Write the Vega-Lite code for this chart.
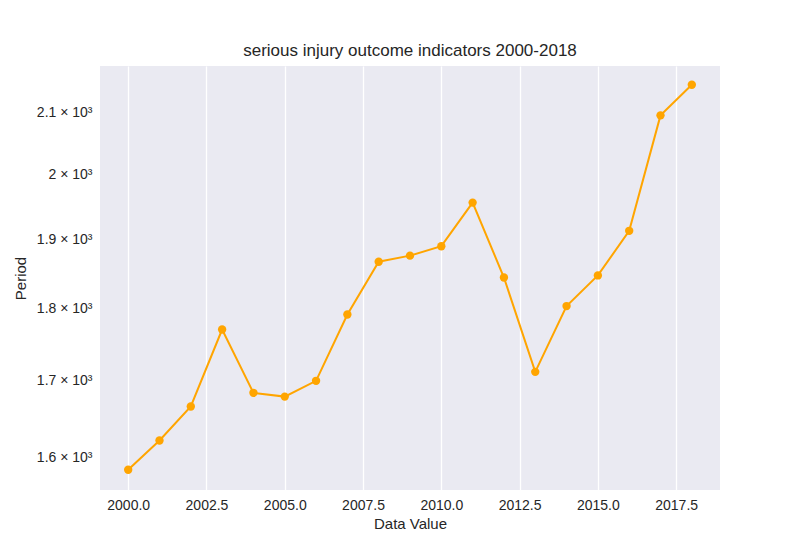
{
  "$schema": "https://vega.github.io/schema/vega-lite/v6.json",
  "autosize": "none",
  "width": 620,
  "height": 424,
  "padding": {"left": 100, "top": 66, "right": 80, "bottom": 60},
  "background": "white",
  "config": {
    "font": "Liberation Sans",
    "view": {"fill": "#EAEAF2", "stroke": null},
    "axis": {"domain": false, "ticks": false, "labelFontSize": 14, "labelColor": "#262626", "titleFontSize": 15, "titleFontWeight": "normal", "titleColor": "#262626", "labelFont": "Liberation Sans", "titleFont": "Liberation Sans"}
  },
  "title": {"text": "serious injury outcome indicators 2000-2018", "fontSize": 17, "fontWeight": "normal", "color": "#262626", "offset": 6, "font": "Liberation Sans"},
  "data": {"values": [
    {"year": 2000, "v": 1585}, {"year": 2001, "v": 1622}, {"year": 2002, "v": 1666},
    {"year": 2003, "v": 1770}, {"year": 2004, "v": 1684}, {"year": 2005, "v": 1679},
    {"year": 2006, "v": 1700}, {"year": 2007, "v": 1791}, {"year": 2008, "v": 1867},
    {"year": 2009, "v": 1876}, {"year": 2010, "v": 1890}, {"year": 2011, "v": 1956},
    {"year": 2012, "v": 1844}, {"year": 2013, "v": 1712}, {"year": 2014, "v": 1803},
    {"year": 2015, "v": 1847}, {"year": 2016, "v": 1913}, {"year": 2017, "v": 2095},
    {"year": 2018, "v": 2146}
  ]},
  "mark": {"type": "line", "color": "orange", "strokeWidth": 2, "point": {"filled": true, "size": 70, "color": "orange", "opacity": 1}},
  "encoding": {
    "x": {"field": "year", "type": "quantitative", "title": "Data Value",
      "scale": {"domain": [1999.1, 2018.9], "nice": false, "zero": false},
      "axis": {"values": [2000, 2002.5, 2005, 2007.5, 2010, 2012.5, 2015, 2017.5], "labelExpr": "format(datum.value, '.1f')", "grid": true, "gridColor": "white", "gridWidth": 1.3, "labelPadding": 8, "titlePadding": 4}},
    "y": {"field": "v", "type": "quantitative", "title": "Period",
      "scale": {"type": "log", "domain": [1560, 2178], "nice": false, "zero": false},
      "axis": {"values": [1600, 1700, 1800, 1900, 2000, 2100], "labelExpr": "(datum.value/1000) + ' × 10³'", "grid": false, "labelPadding": 8, "titlePadding": 8}}
  }
}
